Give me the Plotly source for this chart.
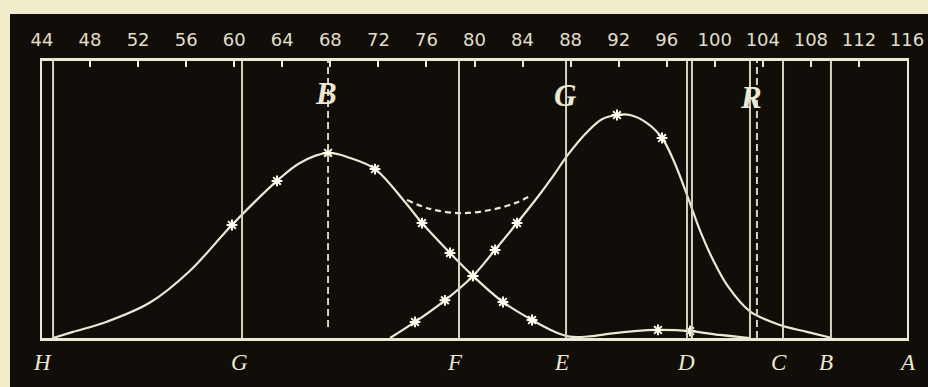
import plotly.graph_objects as go

# scale along the top of the spectrum (44 ... 116)
scale_ticks = list(range(44, 117, 4))

# blue sensation curve (B)
blue_x = [44.92, 46.58, 49.41, 52.99, 56.32, 59.81, 63.56, 65.47, 67.81, 69.64, 71.72, 74.21, 75.63,
          77.96, 79.87, 82.37, 84.79, 86.6, 87.95, 89.6, 91.28, 93.3, 95.27, 97.94, 100.43, 102.93]
blue_y = [0, 2.2, 5.9, 12.8, 24.3, 40.8, 56.7, 63.2, 66.8, 65.0, 61.0, 49.1, 41.5,
          30.7, 22.4, 13.0, 6.5, 2.4, 0.5, 0.6, 1.6, 2.5, 2.9, 2.5, 1.1, 0]
blue_mark_x = [59.81, 63.56, 67.81, 71.72, 75.63, 77.96, 79.87, 82.37, 84.79, 95.27, 97.94]
blue_mark_y = [40.8, 56.7, 66.8, 61.0, 41.5, 30.7, 22.4, 13.0, 6.5, 2.9, 2.5]

# green sensation curve (G)
green_x = [72.97, 75.05, 77.54, 79.87, 81.71, 83.54, 85.45, 86.6, 87.78, 89.36, 90.61, 91.86, 92.94,
           94.36, 95.61, 96.6, 97.7, 98.8, 99.9, 101.1, 102.93, 105.43, 107.68, 109.76]
green_y = [0, 5.8, 13.6, 22.4, 31.8, 41.5, 52.0, 58.8, 66.2, 74.3, 79.0, 80.5, 80.5,
           77.6, 72.2, 63.8, 51.5, 38.5, 27.8, 18.6, 9.6, 4.7, 2.2, 0]
green_mark_x = [75.05, 77.54, 79.87, 81.71, 83.54, 91.86, 95.61]
green_mark_y = [5.8, 13.6, 22.4, 31.8, 41.5, 80.5, 72.2]

# dashed sum curve between the two
sum_x = [74.38, 76.3, 78.79, 81.29, 83.37, 84.79]
sum_y = [49.8, 46.6, 45.1, 46.2, 48.7, 51.6]

# Fraunhofer lines and their letters
line_pos = [44.92, 60.65, 78.71, 87.62, 97.69, 98.1, 102.93, 105.68, 109.67]
dash_pos = [67.81, 103.51]
dash_bottom = [4, 0]
bottom_letters = ["H", "G", "F", "E", "D", "C", "B", "A"]
bottom_pos = [44.0, 60.48, 78.38, 87.28, 97.6, 105.35, 109.26, 116.0]
top_letters = ["B", "G", "R"]
top_pos = [67.6, 87.6, 103.0]
top_height = [88.4, 87.7, 87.0]

ink = "#ECE8D4"
panel = "#110D08"
cream = "#F2EECC"

fig = go.Figure()

# black printed panel behind the chart
fig.add_shape(type="rect", xref="paper", yref="paper", x0=-0.037, x1=1.05, y0=-0.25, y1=1.17,
              fillcolor=panel, line_width=0, layer="below")

for x in line_pos:
    fig.add_shape(type="line", x0=x, x1=x, y0=0, y1=100, line=dict(color="#D6D2BE", width=2))
for x, yb in zip(dash_pos, dash_bottom):
    fig.add_shape(type="line", x0=x, x1=x, y0=yb, y1=100,
                  line=dict(color="#D6D2BE", width=2, dash="7px,4px"))

fig.add_trace(go.Scatter(x=blue_x, y=blue_y, mode="lines", line=dict(color=ink, width=2.2, shape="spline", smoothing=1)))
fig.add_trace(go.Scatter(x=green_x, y=green_y, mode="lines", line=dict(color=ink, width=2.2, shape="spline", smoothing=1)))
fig.add_trace(go.Scatter(x=sum_x, y=sum_y, mode="lines", line=dict(color=ink, width=2.2, shape="spline", dash="6px,4px")))
fig.add_trace(go.Scatter(x=blue_mark_x + green_mark_x, y=blue_mark_y + green_mark_y, mode="markers",
                         marker=dict(symbol="asterisk-open", size=9, color="#FFFFF0", line=dict(color="#FFFFF0", width=2))))

# letters under the baseline (paper coords, below the plotted range)
for t, x in zip(bottom_letters, bottom_pos):
    fig.add_annotation(x=x, y=-0.087, yref="paper", yanchor="middle", text="<i>" + t + "</i>", showarrow=False,
                       font=dict(family="Liberation Serif", size=23, color=ink))
for t, x, y in zip(top_letters, top_pos, top_height):
    fig.add_annotation(x=x, y=y, text="<b><i>" + t + "</i></b>", showarrow=False,
                       font=dict(family="Liberation Serif", size=31, color=ink))

fig.update_layout(
    width=928, height=387,
    margin=dict(l=42, r=21, t=61, b=49),
    paper_bgcolor=cream, plot_bgcolor=panel,
    showlegend=False,
    xaxis=dict(range=[44, 116], side="top", tickvals=scale_ticks, ticks="inside", ticklen=6,
               tickwidth=2, tickcolor=ink, showgrid=False, zeroline=False, showline=True,
               linecolor=ink, linewidth=3, mirror=True, automargin=False, ticklabelstandoff=5,
               tickfont=dict(family="DejaVu Sans", size=18, color="#E2DECA")),
    yaxis=dict(range=[0, 100], showticklabels=False, ticks="", showgrid=False, zeroline=False,
               showline=True, linecolor=ink, linewidth=2, mirror=True, automargin=False),
)

fig.write_html("out.html", config={"displayModeBar": False},
               post_script="document.body.style.margin='0';document.body.style.background='" + cream + "';")
